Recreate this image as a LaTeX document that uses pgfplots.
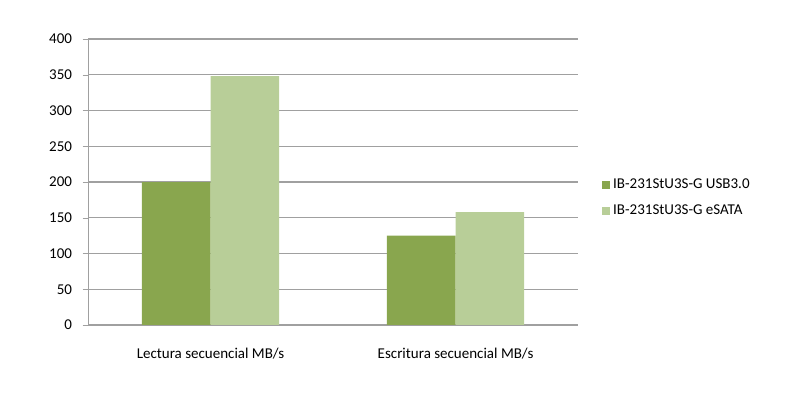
\documentclass[border=0pt]{standalone}
\usepackage{pgfplots}
\pgfplotsset{compat=1.18}
\usepackage{fontspec}
\setmainfont{Carlito}
\definecolor{darkg}{RGB}{137,166,78}
\definecolor{lightg}{RGB}{184,206,152}
\definecolor{gridg}{RGB}{160,160,160}
\begin{document}
\begin{tikzpicture}
\path (0,0) rectangle (576pt,288pt);
\begin{axis}[
  at={(63.4pt,54pt)}, anchor=south west,
  scale only axis, width=352.8pt, height=205.9pt,
  font=\fontsize{10.8}{13}\selectfont,
  ybar=0pt, bar width=0.28,
  xmin=-0.5, xmax=1.5, ymin=0, ymax=400,
  ytick={0,50,...,400},
  xtick={0,1}, xticklabels={Lectura secuencial MB/s, Escritura secuencial MB/s},
  extra x ticks={-0.5,0.5,1.5}, extra x tick labels={},
  extra x tick style={major tick length=4pt, tick style={draw=gridg}, grid=none},
  x tick style={draw=none},
  y tick style={draw=gridg},
  major tick length=4pt,
  tick align=outside,
  axis x line*=bottom, axis y line*=left,
  axis line style={draw=gridg, -},
  ymajorgrids, grid style={draw=gridg, line width=0.8pt},
  xticklabel style={yshift=-9pt},
  yticklabel style={xshift=-4pt},
  /pgf/number format/assume math mode=true,
  legend style={at={(rel axis cs:1.04,0.444)}, anchor=west, draw=none, fill=none,
     font=\fontsize{10.8}{13}\selectfont, row sep=6pt, legend cell align=left},
  legend image code/.code={\fill[#1] (0pt,-3pt) rectangle (6pt,3pt);},
]
\addplot[fill=darkg, draw=none] coordinates {(0,200) (1,125)};
\addplot[fill=lightg, draw=none] coordinates {(0,348) (1,158)};
\legend{IB-231StU3S-G USB3.0, IB-231StU3S-G eSATA}
\end{axis}
\end{tikzpicture}
\end{document}
